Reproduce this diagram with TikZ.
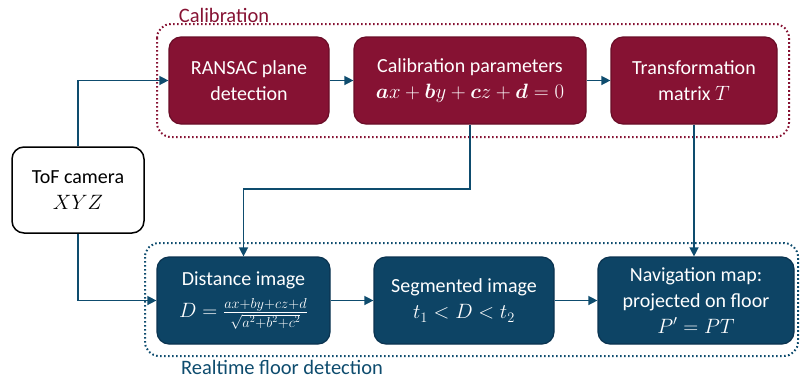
\documentclass[tikz,border=0pt]{standalone}
\usepackage{amsmath}
\usepackage{fontspec}
\setmainfont{Carlito}
\usetikzlibrary{arrows.meta}
\definecolor{maroon}{HTML}{861233}
\definecolor{maroondark}{HTML}{6A0D27}
\definecolor{navy}{HTML}{0D4465}
\definecolor{navydark}{HTML}{0A3350}
\definecolor{arrowblue}{HTML}{0E4C6E}
\begin{document}
\begin{tikzpicture}[x=1pt,y=-1pt,
  boxfont/.style={font=\fontsize{20}{26}\selectfont},
  calbox/.style={draw=maroondark, fill=maroon, line width=1.2pt, rounded corners=12pt, text=white, align=center, minimum height=87pt, inner sep=1pt, boxfont},
  rtbox/.style={draw=navydark, fill=navy, line width=1.2pt, rounded corners=12pt, text=white, align=center, minimum height=87pt, inner sep=1pt, boxfont},
  srcbox/.style={draw=black, fill=white, line width=1.5pt, rounded corners=12pt, align=center, minimum height=86pt, inner sep=1pt, boxfont},
  groupbox/.style={line width=2pt, dash pattern=on 1.6pt off 2.4pt, rounded corners=14pt},
  flow/.style={draw=arrowblue, line width=1.4pt, -{Triangle[length=9pt,width=9pt]}}
]
\useasboundingbox (0,0) rectangle (801,381);
% group frames
\draw[groupbox, draw=maroon] (157,24) rectangle (789,137);
\draw[groupbox, draw=arrowblue] (145,243) rectangle (798,356);
\node[text=maroon, font=\fontsize{20.5}{24}\selectfont] (callabel) at (224,15) {Calibration};
\node[text=arrowblue, font=\fontsize{20.5}{24}\selectfont] (rtlabel) at (282,367) {Realtime floor detection};
% nodes
\node[srcbox, minimum width=132pt] (tof) at (78,190) {ToF camera\\$XYZ$};
\node[calbox, minimum width=160pt] (ransac) at (249,80.5) {RANSAC plane\\detection};
\node[calbox, minimum width=232pt] (calib) at (470,80.5) {Calibration parameters\\$\boldsymbol{a}x+\boldsymbol{b}y+\boldsymbol{c}z+\boldsymbol{d}=0$};
\node[calbox, minimum width=166pt] (transf) at (694,80.5) {Transformation\\matrix $T$};
\node[rtbox, minimum width=173pt] (dist) at (243.5,300.5) {Distance image\\[6pt]$D=\frac{ax+by+cz+d}{\sqrt{a^2+b^2+c^2}}$};
\node[rtbox, minimum width=180pt] (seg) at (464,300.5) {Segmented image\\$t_1<D<t_2$};
\node[rtbox, minimum width=196pt] (nav) at (696,300.5) {Navigation map:\\projected on floor\\$P'=PT$};
% connectors
\coordinate (bend) at (470,189);
\draw[flow] (tof.north) |- (ransac.west);
\draw[flow] (tof.south) |- (dist.west);
\draw[flow] (ransac) -- (calib);
\draw[flow] (calib) -- (transf);
\draw[flow] (calib.south) -- (bend) -| (dist.north);
\draw[flow] (transf.south) -- (transf.south |- nav.north);
\draw[flow] (dist) -- (seg);
\draw[flow] (seg) -- (nav);
\end{tikzpicture}
\end{document}
